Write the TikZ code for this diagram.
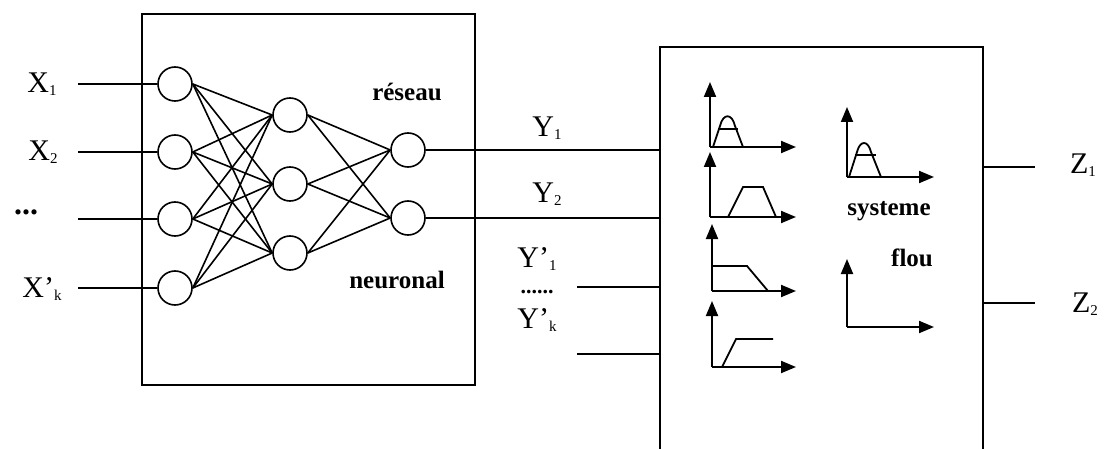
\documentclass[tikz,border=0pt]{standalone}
\usepackage{fontspec}
\setmainfont{Liberation Serif}
\usetikzlibrary{arrows.meta}
\tikzset{
  neuron/.style={draw, circle, line width=1.6pt, minimum size=34pt, inner sep=0pt},
  wire/.style={line width=1.6pt},
  frame/.style={draw, line width=1.6pt, inner sep=0pt},
  lbl/.style={font=\fontsize{30}{30}\selectfont, inner sep=0pt},
  blbl/.style={font=\fontsize{25}{25}\selectfont\bfseries, inner sep=0pt},
  axis/.style={line width=2pt, -{Triangle[length=15pt,width=12pt]}},
  mf/.style={line width=1.8pt}
}
\newcommand{\sbs}[1]{\lower3pt\hbox{\fontsize{15}{15}\selectfont #1}}
\begin{document}
\begin{tikzpicture}[x=1pt,y=-1pt]
\useasboundingbox (0,0) rectangle (1110,449);
\fill[white] (0,0) rectangle (1110,449);
% boxes
\node[frame, minimum width=333pt, minimum height=371pt] (nnbox) at (308.5,199.5) {};
\node[frame, minimum width=323pt, minimum height=420pt] (fbox) at (821.5,257) {};
% input neurons
\node[neuron] (i1) at (175,84) {};
\node[neuron] (i2) at (175,152) {};
\node[neuron] (i3) at (175,219) {};
\node[neuron] (i4) at (175,288) {};
% hidden
\node[neuron] (h1) at (290,115) {};
\node[neuron] (h2) at (290,184) {};
\node[neuron] (h3) at (290,253) {};
% outputs
\node[neuron] (o1) at (408,150) {};
\node[neuron] (o2) at (408,218) {};
\foreach \i in {1,2,3,4}{\foreach \h in {1,2,3}{\draw[wire] (i\i.east) -- (h\h.west);}}
\foreach \h in {1,2,3}{\foreach \o in {1,2}{\draw[wire] (h\h.east) -- (o\o.west);}}
% inputs
\foreach \i/\y in {1/84,2/152,3/219,4/288}{
  \coordinate (xs\i) at (78,\y);
  \draw[wire] (xs\i) -- (i\i.west);
}
\node[lbl] (lx1) at (42,84) {X\sbs{1}};
\node[lbl] (lx2) at (43,152) {X\sbs{2}};
\node[lbl] (lx3) at (26,212) {\fontsize{32}{32}\selectfont\textbf{...}};
\node[lbl] (lx4) at (42,289) {X'\sbs{k}};
% labels
\node[blbl] (res) at (407,92) {réseau};
\node[blbl] (neu) at (397,280) {neuronal};
% outputs of network
\draw[wire] (o1.east) -- (o1.east -| fbox.west);
\draw[wire] (o2.east) -- (o2.east -| fbox.west);
\node[lbl] (ly1) at (547,128) {Y\sbs{1}};
\node[lbl] (ly2) at (547,194) {Y\sbs{2}};
\node[lbl] (ly3) at (537,259) {Y'\sbs{1}};
\node[inner sep=0pt, anchor=base, font=\fontsize{22}{22}\selectfont\bfseries] (ldots) at (537,293) {......};
\node[lbl] (ly4) at (537,320) {Y'\sbs{k}};
\coordinate (ys3) at (577,287);
\coordinate (ys4) at (577,354);
\draw[wire] (ys3) -- (ys3 -| fbox.west);
\draw[wire] (ys4) -- (ys4 -| fbox.west);
% outputs Z
\coordinate (ze1) at (1035,167);
\coordinate (ze2) at (1035,303);
\draw[wire] (ze1 -| fbox.east) -- (ze1);
\draw[wire] (ze2 -| fbox.east) -- (ze2);
\node[lbl] (lz1) at (1083,165) {Z\sbs{1}};
\node[lbl] (lz2) at (1085,304) {Z\sbs{2}};
% membership plots (left column)
\draw[axis] (710,147) -- (710,82);
\draw[axis] (710,147) -- (796,147);
\draw[mf] (713,147) -- (720,126) .. controls (723,113) and (732,113) .. (735,126) -- (743,147);
\draw[mf] (718,129) -- (738,129);
\draw[axis] (710,217) -- (710,152);
\draw[axis] (710,217) -- (796,217);
\draw[mf] (728,217) -- (743,187) -- (763,187) -- (776,217);
\draw[axis] (712,291) -- (712,224);
\draw[axis] (712,291) -- (796,291);
\draw[mf] (712,266) -- (747,266) -- (768,291);
\draw[axis] (712,367) -- (712,301);
\draw[axis] (712,367) -- (796,367);
\draw[mf] (722,367) -- (736,339) -- (773,339);
% right column
\draw[axis] (847,177) -- (847,107);
\draw[axis] (847,177) -- (934,177);
\draw[mf] (849,177) -- (857,152) .. controls (860,140) and (868,140) .. (871,152) -- (881,177);
\draw[mf] (855,155) -- (876,155);
\draw[axis] (847,327) -- (847,259);
\draw[axis] (847,327) -- (934,327);
\node[blbl] (sys) at (889,211) {systeme};
\node[blbl] (flou) at (912,258) {flou};
\end{tikzpicture}
\end{document}
